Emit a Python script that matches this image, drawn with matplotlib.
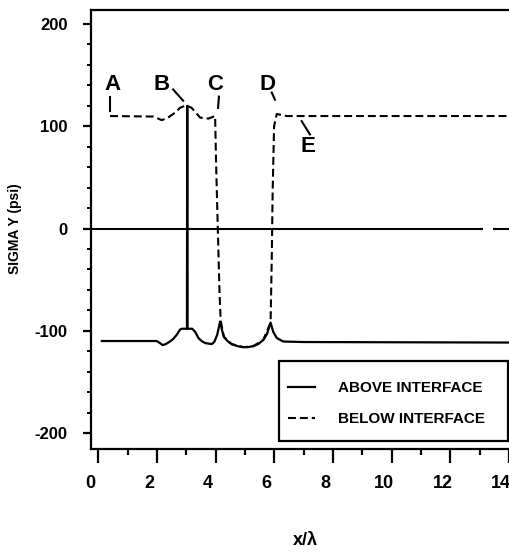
import matplotlib
matplotlib.use("Agg")
import matplotlib.pyplot as plt
from matplotlib import font_manager
from matplotlib.patches import Rectangle
from matplotlib.ticker import MultipleLocator, FixedLocator
from matplotlib.transforms import ScaledTranslation

names = {f.name for f in font_manager.fontManager.ttflist}
narrow = "Liberation Sans Narrow" if "Liberation Sans Narrow" in names else "Liberation Sans"
plt.rcParams["font.family"] = [narrow, "DejaVu Sans"]
plt.rcParams["axes.unicode_minus"] = False

# ---- data ----
above_x = [0.12, 1.99, 2.10, 2.19, 2.30, 2.44, 2.55, 2.67, 2.78, 2.84, 3.02, 3.03, 3.04,
           3.20, 3.30, 3.41, 3.52, 3.64, 3.86, 3.95, 4.05, 4.15, 4.22, 4.28, 4.40,
           4.54, 4.74, 4.94, 5.10, 5.28, 5.45, 5.62, 5.75, 5.87, 5.96, 6.08, 6.30,
           7.00, 14.03]
above_y = [-110, -110, -112, -114, -113, -110.5, -108, -104, -99, -98, -98, 120, -98,
           -98, -101, -107, -110, -112, -113, -111, -104, -91, -100, -106, -110,
           -113, -115, -116, -116, -115, -113, -109, -103, -92, -101, -107, -110.5,
           -111, -111.5]

below_x = [0.40, 1.87, 2.00, 2.16, 2.35, 2.50, 2.65, 2.78, 2.99, 3.18, 3.30, 3.47,
           3.75, 3.98, 4.01, 4.07, 4.13, 4.17, 4.28, 4.54, 4.94, 5.28, 5.62, 5.87,
           5.91, 5.94, 5.99, 6.08, 6.42, 14.03]
below_y = [110, 109.5, 108, 106, 108, 111, 114, 118, 120.5, 118, 114, 108.5,
           107.5, 110, 68, 2, -63, -90, -106, -113, -116, -115, -109, -92,
           -30, 35, 100, 112, 110, 110]

point_labels = ["A", "B", "C", "D", "E"]
label_xy = [(0.47, 141), (2.17, 141), (3.97, 141), (5.78, 141), (7.15, 80)]
leader_from = [(0.40, 129), (2.55, 136), (4.11, 129), (5.91, 133), (6.93, 105)]
leader_to = [(0.40, 115), (2.89, 125), (4.08, 118), (6.02, 126), (7.21, 92)]

x_ticks = [0, 2, 4, 6, 8, 10, 12, 14]
y_ticks = [-200, -100, 0, 100, 200]
series_names = ["ABOVE INTERFACE", "BELOW INTERFACE"]

# ---- figure ----
fig = plt.figure(figsize=(5.1, 5.6), dpi=100)
ax = fig.add_axes([91 / 510, 1 - 449 / 560, 419 / 510, 439 / 560])
ax.set_xlim(-0.25, 14.03)
ax.set_ylim(-215.6, 213.7)

# zero line (with small gap near right end as in the reference)
ax.plot([-0.25, 13.1], [0, 0], color="black", lw=1.5, solid_capstyle="butt")
ax.plot([13.45, 14.03], [0, 0], color="black", lw=1.5, solid_capstyle="butt")

ax.plot(below_x, below_y, color="black", lw=1.5, dashes=(3.8, 1.9),
        label=series_names[1], zorder=3)
ax.plot(above_x, above_y, color="black", lw=1.6, label=series_names[0], zorder=4)

for lab, lxy, p0, p1 in zip(point_labels, label_xy, leader_from, leader_to):
    ax.text(lxy[0], lxy[1], lab, ha="center", va="center", fontsize=16,
            fontweight="bold", family=["Liberation Sans", "DejaVu Sans"])
    ax.plot([p0[0], p1[0]], [p0[1], p1[1]], color="black", lw=1.5)

ax.spines["right"].set_visible(False)
for s in ["left", "bottom", "top"]:
    ax.spines[s].set_linewidth(1.6)

ax.xaxis.set_major_locator(FixedLocator(x_ticks))
ax.xaxis.set_minor_locator(MultipleLocator(1))
ax.yaxis.set_major_locator(FixedLocator(y_ticks))
ax.yaxis.set_minor_locator(MultipleLocator(20))
ax.tick_params(axis="x", which="major", direction="out", length=10, width=1.6,
               pad=9, labelsize=13)
ax.tick_params(axis="x", which="minor", direction="out", length=4, width=1.6)
ax.tick_params(axis="y", which="major", direction="out", length=6, width=1.6,
               pad=11, labelsize=12)
ax.tick_params(axis="y", which="minor", direction="out", length=3, width=1.4)
ax.tick_params(top=False, right=False, which="both")
shift = ScaledTranslation(-8 / 100, 0, fig.dpi_scale_trans)
for t in ax.get_xticklabels():
    t.set_fontweight("bold")
    t.set_transform(t.get_transform() + shift)
for t in ax.get_yticklabels():
    t.set_fontweight("bold")

ax.set_xlabel("x/λ", fontsize=13, fontweight="bold",
              family=["Liberation Sans", "DejaVu Sans"])
ax.xaxis.set_label_coords(0.511, -0.19)
ax.set_ylabel("SIGMA Y (psi)", fontsize=10, fontweight="bold")
ax.yaxis.set_label_coords(-0.165, 0.503)

# legend frame drawn as a separate box, legend entries placed inside it
ax.add_patch(Rectangle((0.449, 0.018), 0.547, 0.182, transform=ax.transAxes,
                       facecolor="white", edgecolor="black", lw=1.6, zorder=5))
handles, labels = ax.get_legend_handles_labels()
order = [1, 0]
leg = ax.legend([handles[i] for i in order], [labels[i] for i in order],
                loc="upper left", bbox_to_anchor=(0.470, 0.154),
                borderaxespad=0, borderpad=0, frameon=False,
                handlelength=1.76, handletextpad=1.55, labelspacing=1.1,
                prop={"size": 11, "weight": "bold"})
leg.set_zorder(6)

fig.savefig("out.png", dpi=100)
